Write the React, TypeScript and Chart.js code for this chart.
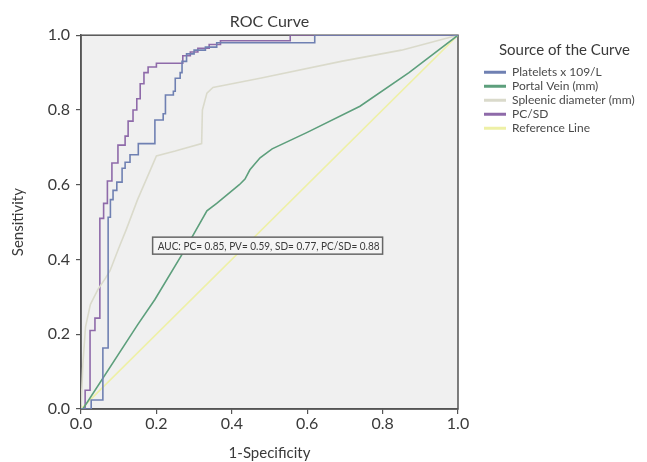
import React, { useEffect, useRef } from "react";
import { Chart, registerables } from "chart.js";

Chart.register(...registerables);

// ---- Data ----
const seriesNames = [
  "Platelets x 109/L",
  "Portal Vein (mm)",
  "Spleenic diameter (mm)",
  "PC/SD",
  "Reference Line",
];

const xTicks = [0, 0.2, 0.4, 0.6, 0.8, 1.0];
const yTicks = [0, 0.2, 0.4, 0.6, 0.8, 1.0];

const plateletsX = [0, 0.027, 0.027, 0.058, 0.058, 0.072, 0.072, 0.078, 0.078, 0.085, 0.085, 0.095, 0.095, 0.109, 0.109, 0.117, 0.117, 0.13, 0.13, 0.152, 0.152, 0.196, 0.196, 0.218, 0.218, 0.224, 0.224, 0.245, 0.245, 0.25, 0.25, 0.263, 0.263, 0.268, 0.268, 0.28, 0.28, 0.3, 0.3, 0.33, 0.33, 0.36, 0.36, 0.62, 0.62, 1];
const plateletsY = [0, 0, 0.024, 0.024, 0.163, 0.163, 0.513, 0.513, 0.56, 0.56, 0.585, 0.585, 0.607, 0.607, 0.644, 0.644, 0.66, 0.66, 0.68, 0.68, 0.71, 0.71, 0.773, 0.773, 0.79, 0.79, 0.84, 0.84, 0.85, 0.85, 0.885, 0.885, 0.9, 0.9, 0.93, 0.93, 0.95, 0.95, 0.96, 0.96, 0.968, 0.968, 0.98, 0.98, 1, 1];

const portalX = [0, 0.005, 0.15, 0.196, 0.276, 0.334, 0.36, 0.42, 0.435, 0.448, 0.475, 0.507, 0.6, 0.74, 0.87, 1];
const portalY = [0, 0, 0.225, 0.293, 0.427, 0.53, 0.55, 0.6, 0.615, 0.64, 0.672, 0.696, 0.74, 0.81, 0.9, 1];

const spleenX = [0, 0.005, 0.012, 0.025, 0.045, 0.065, 0.077, 0.1, 0.12, 0.15, 0.183, 0.2, 0.25, 0.32, 0.322, 0.334, 0.35, 0.475, 0.69, 0.85, 1];
const spleenY = [0, 0.12, 0.22, 0.28, 0.32, 0.35, 0.37, 0.43, 0.48, 0.56, 0.637, 0.677, 0.69, 0.71, 0.8, 0.845, 0.86, 0.885, 0.93, 0.96, 1];

const pcsdX = [0, 0.011, 0.011, 0.024, 0.024, 0.037, 0.037, 0.05, 0.05, 0.06, 0.06, 0.07, 0.07, 0.082, 0.082, 0.098, 0.098, 0.117, 0.117, 0.125, 0.125, 0.138, 0.138, 0.148, 0.148, 0.157, 0.157, 0.167, 0.167, 0.178, 0.178, 0.2, 0.2, 0.27, 0.27, 0.29, 0.29, 0.31, 0.31, 0.34, 0.34, 0.37, 0.37, 0.555, 0.555, 1];
const pcsdY = [0, 0, 0.05, 0.05, 0.21, 0.21, 0.243, 0.243, 0.51, 0.51, 0.55, 0.55, 0.61, 0.61, 0.658, 0.658, 0.706, 0.706, 0.73, 0.73, 0.77, 0.77, 0.8, 0.8, 0.83, 0.83, 0.87, 0.87, 0.9, 0.9, 0.915, 0.915, 0.925, 0.925, 0.945, 0.945, 0.955, 0.955, 0.965, 0.965, 0.975, 0.975, 0.985, 0.985, 1, 1];

const referenceX = [0, 1];
const referenceY = [0, 1];

const aucText = "AUC: PC= 0.85, PV= 0.59, SD= 0.77, PC/SD= 0.88";

// ---- Styles ----
const FONT = "Lato, 'Liberation Sans', sans-serif";
const TEXT = "#3a3a3a";
const colors = ["#6f80b2", "#5d9f7c", "#dadacb", "#8e6aa9", "#eef0a6"];
const annotationBox = { x0: 0.19, x1: 0.8, yc: 0.437, h: 17 };
const LEGEND_SPACE = 189; // room kept on the right for the legend
const LEGEND_GAP = 24;

const toPoints = (xs: number[], ys: number[]) => xs.map((x, i) => ({ x, y: ys[i] }));

const framePlugin = {
  id: "frame",
  beforeInit(chart: any) {
    const lg = chart.legend;
    if (lg) {
      const orig = lg.fit.bind(lg);
      lg.fit = function () {
        orig();
        this.width = LEGEND_SPACE;
      };
    }
  },
  afterLayout(chart: any) {
    const lg = chart.legend;
    if (lg) {
      lg.left += LEGEND_GAP;
      lg.width = lg.right - lg.left;
    }
  },
  beforeDraw(chart: any) {
    const { ctx, chartArea } = chart;
    const { left, top, right, bottom } = chartArea;
    ctx.save();
    ctx.fillStyle = "#f0f0f0";
    ctx.fillRect(left, top, right - left, bottom - top);
    ctx.restore();
  },
  beforeDatasetsDraw(chart: any) {
    const { ctx, chartArea } = chart;
    const { left, top, right, bottom } = chartArea;
    ctx.save();
    ctx.strokeStyle = "#555";
    ctx.lineWidth = 1.5;
    ctx.strokeRect(left, top, right - left, bottom - top);
    ctx.restore();
  },
  afterDatasetsDraw(chart: any) {
    const { ctx, scales } = chart;
    const x0 = scales.x.getPixelForValue(annotationBox.x0);
    const x1 = scales.x.getPixelForValue(annotationBox.x1);
    const yc = scales.y.getPixelForValue(annotationBox.yc);
    const h = annotationBox.h;
    ctx.save();
    ctx.fillStyle = "#f5f5f5";
    ctx.fillRect(x0, yc - h / 2, x1 - x0, h);
    ctx.strokeStyle = "#666";
    ctx.lineWidth = 1.5;
    ctx.strokeRect(x0, yc - h / 2, x1 - x0, h);
    ctx.fillStyle = TEXT;
    ctx.font = `11px ${FONT}`;
    ctx.textBaseline = "middle";
    ctx.textAlign = "left";
    ctx.fillText(aucText, x0 + 5, yc + 0.5, x1 - x0 - 8);
    ctx.restore();
  },
};

export default function App() {
  const canvasRef = useRef<HTMLCanvasElement | null>(null);

  useEffect(() => {
    if (!canvasRef.current) return;
    const series = [
      toPoints(plateletsX, plateletsY),
      toPoints(portalX, portalY),
      toPoints(spleenX, spleenY),
      toPoints(pcsdX, pcsdY),
      toPoints(referenceX, referenceY),
    ];
    const chart = new Chart(canvasRef.current, {
      type: "line",
      data: {
        datasets: series.map((pts, i) => ({
          label: seriesNames[i],
          data: pts,
          borderColor: colors[i],
          backgroundColor: colors[i],
          borderWidth: 1.6,
          pointRadius: 0,
          tension: 0,
          fill: false,
        })),
      },
      options: {
        animation: false,
        responsive: false,
        layout: { padding: { left: 0, right: 0, top: 0, bottom: 0 } },
        plugins: {
          title: {
            display: true,
            text: "ROC Curve",
            fullSize: false,
            color: TEXT,
            font: { family: FONT, size: 16, weight: "normal" },
            padding: { top: 12, bottom: 4 },
          },
          legend: {
            display: true,
            position: "right",
            align: "start",
            fullSize: false,
            title: {
              display: true,
              text: "Source of the Curve",
              color: TEXT,
              font: { family: FONT, size: 15, weight: "normal" },
              padding: { top: 7, bottom: 4 },
            },
            labels: {
              boxWidth: 22,
              boxHeight: 3,
              padding: 2,
              color: "#4a4a4a",
              font: { family: FONT, size: 12 },
              generateLabels: (c: any) =>
                (Chart as any).defaults.plugins.legend.labels
                  .generateLabels(c)
                  .map((l: any) => ({ ...l, lineWidth: 0 })),
            },
          },
          tooltip: { enabled: false },
        },
        scales: {
          x: {
            type: "linear",
            min: 0,
            max: 1,
            afterBuildTicks: (s: any) => {
              s.ticks = xTicks.map((v) => ({ value: v }));
            },
            ticks: {
              color: TEXT,
              font: { family: FONT, size: 16 },
              padding: 0,
              callback: (v: any) => Number(v).toFixed(1),
            },
            grid: { display: true, drawOnChartArea: false, drawTicks: true, tickLength: 5, color: "#555", lineWidth: 1.2 },
            border: { display: true, color: "#555", width: 1.5 },
            title: {
              display: true,
              text: "1-Specificity",
              color: TEXT,
              font: { family: FONT, size: 15 },
              padding: { top: 1, bottom: 0 },
            },
            afterFit: (s: any) => {
              s.height = 53;
            },
          },
          y: {
            type: "linear",
            min: 0,
            max: 1,
            afterBuildTicks: (s: any) => {
              s.ticks = yTicks.map((v) => ({ value: v }));
            },
            ticks: {
              color: TEXT,
              font: { family: FONT, size: 16 },
              padding: 6,
              callback: (v: any) => Number(v).toFixed(1),
            },
            grid: { display: true, drawOnChartArea: false, drawTicks: true, tickLength: 5, color: "#555", lineWidth: 1.2 },
            border: { display: true, color: "#555", width: 1.5 },
            title: {
              display: true,
              text: "Sensitivity",
              color: TEXT,
              font: { family: FONT, size: 15 },
              padding: { top: 9, bottom: 0 },
            },
            afterFit: (s: any) => {
              s.width = 81;
            },
          },
        },
      } as any,
      plugins: [framePlugin],
    });
    return () => chart.destroy();
  }, []);

  return (
    <div style={{ position: "fixed", left: 0, top: 0, width: 647, height: 462, background: "#fff" }}>
      <canvas ref={canvasRef} width={647} height={462} style={{ width: 647, height: 462 }} />
    </div>
  );
}
